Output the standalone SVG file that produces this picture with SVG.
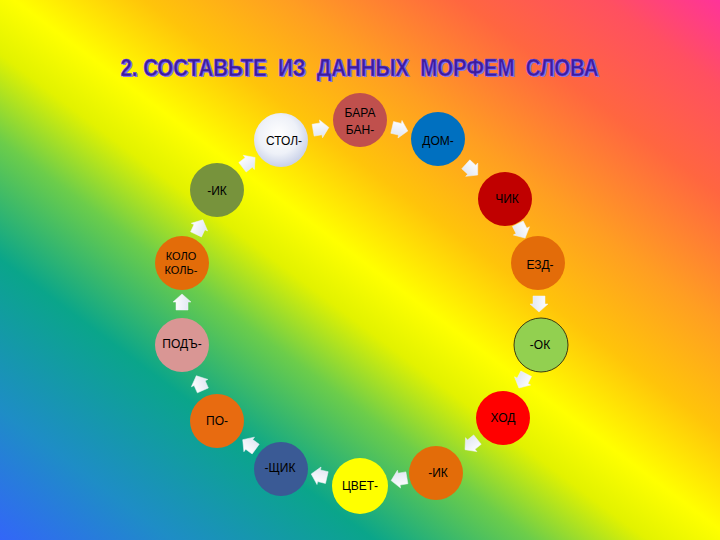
<svg xmlns="http://www.w3.org/2000/svg" width="720" height="540" viewBox="0 0 720 540">
  <defs>
    <linearGradient id="bg" x1="0" y1="1" x2="1" y2="0">
      <stop offset="0" stop-color="#3366f8"/>
      <stop offset="0.12" stop-color="#1e8dc6"/>
      <stop offset="0.26" stop-color="#0aa58a"/>
      <stop offset="0.37" stop-color="#6ccd4a"/>
      <stop offset="0.45" stop-color="#e2f200"/>
      <stop offset="0.51" stop-color="#ffff00"/>
      <stop offset="0.6" stop-color="#ffc40a"/>
      <stop offset="0.7" stop-color="#ff9e22"/>
      <stop offset="0.82" stop-color="#ff6640"/>
      <stop offset="0.92" stop-color="#ff5060"/>
      <stop offset="1" stop-color="#ff3399"/>
    </linearGradient>
    <radialGradient id="stol" cx="0.45" cy="0.4" r="0.6">
      <stop offset="0" stop-color="#ffffff"/>
      <stop offset="0.6" stop-color="#eef1f8"/>
      <stop offset="1" stop-color="#c9d1e8"/>
    </radialGradient>
    <linearGradient id="arw" x1="0" y1="0" x2="0" y2="1">
      <stop offset="0" stop-color="#ffffff"/>
      <stop offset="1" stop-color="#dfe5f2"/>
    </linearGradient>
    <path id="a" d="M-7,-6 H1 V-9 L9,0 L1,9 V6 H-7 Z"/>
    <style>
      .n { stroke: none; }
      .t { font-family: "Liberation Sans Narrow", "Liberation Sans", Arial, sans-serif; font-size: 12px; fill: #000; text-anchor: middle; }
      .s { font-size: 11px; }
      .arrow { fill: url(#arw); stroke: #eef2fa; stroke-width: 0.5; }
      .title { font-family: "Liberation Sans", Arial, sans-serif; font-weight: bold; font-size: 23px; white-space: pre; }
    </style>
  </defs>

  <rect x="0" y="0" width="720" height="540" fill="url(#bg)"/>

  <g id="title">
    <text class="title" xml:space="preserve" x="122" y="77" textLength="478" lengthAdjust="spacingAndGlyphs" fill="#8c7cf0">2. СОСТАВЬТЕ  ИЗ  ДАННЫХ  МОРФЕМ  СЛОВА</text>
    <text class="title" xml:space="preserve" x="120.5" y="75.5" textLength="478" lengthAdjust="spacingAndGlyphs" fill="#3d1c9e" stroke="#6a50d8" stroke-width="0.6">2. СОСТАВЬТЕ  ИЗ  ДАННЫХ  МОРФЕМ  СЛОВА</text>
  </g>

  <g id="connectors">
    <use href="#a" class="arrow" transform="translate(320,129) rotate(-10)"/>
    <use href="#a" class="arrow" transform="translate(399,129) rotate(13)"/>
    <use href="#a" class="arrow" transform="translate(471,169) rotate(42)"/>
    <use href="#a" class="arrow" transform="translate(521,230) rotate(63)"/>
    <use href="#a" class="arrow" transform="translate(539,303) rotate(90)"/>
    <use href="#a" class="arrow" transform="translate(523,380) rotate(117)"/>
    <use href="#a" class="arrow" transform="translate(472,444) rotate(141)"/>
    <use href="#a" class="arrow" transform="translate(400,479) rotate(170)"/>
    <use href="#a" class="arrow" transform="translate(320,476) rotate(193)"/>
    <use href="#a" class="arrow" transform="translate(250,445) rotate(216)"/>
    <use href="#a" class="arrow" transform="translate(200,384) rotate(246)"/>
    <use href="#a" class="arrow" transform="translate(182,303) rotate(270)"/>
    <use href="#a" class="arrow" transform="translate(199,228) rotate(295)"/>
    <use href="#a" class="arrow" transform="translate(248,163) rotate(322)"/>
  </g>

  <g id="n-stol">
    <circle class="n" cx="281" cy="140" r="27" fill="url(#stol)"/>
    <text class="t" x="284" y="145">СТОЛ-</text>
  </g>
  <g id="n-baraban">
    <circle class="n" cx="360" cy="120" r="27" fill="#c0504d"/>
    <text class="t" x="360" y="117">БАРА</text>
    <text class="t" x="360" y="134">БАН-</text>
  </g>
  <g id="n-dom">
    <circle class="n" cx="438" cy="139" r="27" fill="#0070c0"/>
    <text class="t" x="438" y="145">ДОМ-</text>
  </g>
  <g id="n-chik">
    <circle class="n" cx="505" cy="199" r="27" fill="#c00000"/>
    <text class="t" x="507" y="203">ЧИК</text>
  </g>
  <g id="n-ezd">
    <circle class="n" cx="538" cy="263" r="27" fill="#e36c09"/>
    <text class="t" x="540" y="269">ЕЗД-</text>
  </g>
  <g id="n-ok">
    <circle cx="541" cy="345" r="27" fill="#92d050" stroke="#3b3b12" stroke-width="1"/>
    <text class="t" x="540" y="349">-ОК</text>
  </g>
  <g id="n-hod">
    <circle class="n" cx="503" cy="418" r="27" fill="#ff0000"/>
    <text class="t" x="503" y="422">ХОД</text>
  </g>
  <g id="n-ik2">
    <circle class="n" cx="436" cy="473" r="27" fill="#e36c09"/>
    <text class="t" x="438" y="477">-ИК</text>
  </g>
  <g id="n-cvet">
    <circle class="n" cx="360" cy="486" r="28" fill="#ffff00"/>
    <text class="t" x="360" y="490">ЦВЕТ-</text>
  </g>
  <g id="n-shchik">
    <circle class="n" cx="281" cy="469" r="27" fill="#3a5a95"/>
    <text class="t" x="280" y="472">-ЩИК</text>
  </g>
  <g id="n-po">
    <circle class="n" cx="217" cy="421" r="27" fill="#e86b10"/>
    <text class="t" x="217" y="425">ПО-</text>
  </g>
  <g id="n-pod">
    <circle class="n" cx="182" cy="345" r="27" fill="#d99694"/>
    <text class="t" x="182" y="348">ПОДЪ-</text>
  </g>
  <g id="n-kolokol">
    <circle class="n" cx="182" cy="263" r="27" fill="#e36c09"/>
    <text class="t s" x="181" y="260">КОЛО</text>
    <text class="t s" x="181" y="274">КОЛЬ-</text>
  </g>
  <g id="n-ik1">
    <circle class="n" cx="217" cy="190" r="27" fill="#77933c"/>
    <text class="t" x="217" y="195">-ИК</text>
  </g>
</svg>
